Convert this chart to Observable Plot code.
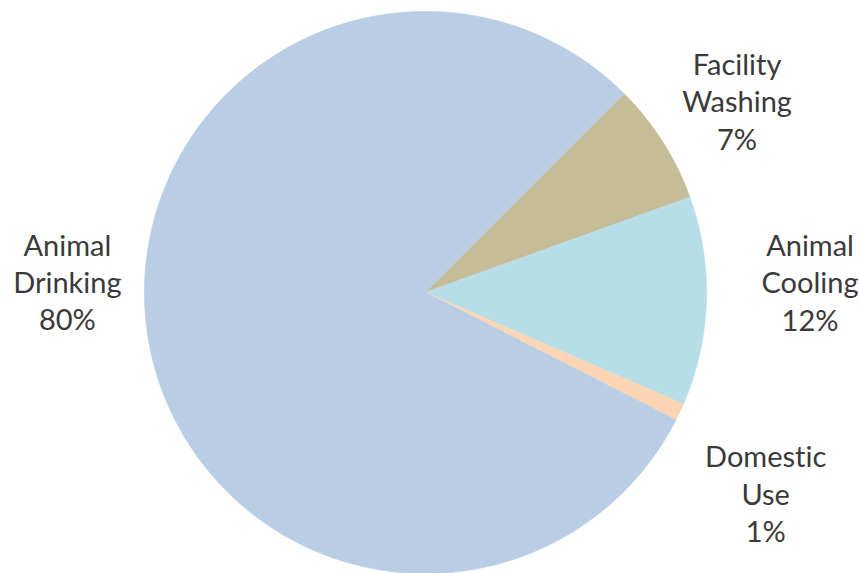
<!DOCTYPE html>
<html><head><meta charset="utf-8">
<script src="https://cdn.jsdelivr.net/npm/d3@7"></script>
<script src="https://cdn.jsdelivr.net/npm/@observablehq/plot@0.6"></script>
<style>html,body{margin:0;padding:0;background:#fff;overflow:hidden} svg text{font-variant-ligatures:none;font-feature-settings:"liga" 0,"clig" 0}</style>
</head><body><div id="chart"></div>
<script>
// ---- data ----
const categories = ["Facility Washing", "Animal Cooling", "Domestic Use", "Animal Drinking"];
const labelLines = [["Facility", "Washing"], ["Animal", "Cooling"], ["Domestic", "Use"], ["Animal", "Drinking"]];
const values = [7, 12, 1, 80];
const colors = ["#C4BD97", "#B7DEE8", "#FCD5B5", "#B9CDE5"];

// ---- layout ----
const W = 860, H = 573;
const cx = 425, cy = 292, R = 281;
const startDeg = 45;          // first slice begins at 45° clockwise from 12 o'clock
const labelRadius = 1.33;     // label centre, in pie radii, along the slice's mid-angle
const labelNudge = [[-4, 8], [11, -23], [2, 41], [11, -70]]; // best-fit shifts (px)

const pie = d3.pie().sort(null).value(d => d)
  .startAngle(startDeg * Math.PI / 180)
  .endAngle(startDeg * Math.PI / 180 + 2 * Math.PI);
const arcs = pie(values);

const pt = (a, r) => [cx + r * Math.sin(a), cy - r * Math.cos(a)];

const wedgePts = [];
arcs.forEach((a, i) => {
  const cat = categories[i];
  wedgePts.push({cat, x: cx, y: cy});
  const n = Math.max(2, Math.ceil((a.endAngle - a.startAngle) / (Math.PI / 720)));
  for (let k = 0; k <= n; k++) {
    const ang = a.startAngle + (a.endAngle - a.startAngle) * k / n;
    const [x, y] = pt(ang, R);
    wedgePts.push({cat, x, y});
  }
});

const labels = arcs.map((a, i) => {
  const mid = (a.startAngle + a.endAngle) / 2;
  const [x, y] = pt(mid, R * labelRadius);
  return {
    x: x + labelNudge[i][0],
    y: y + labelNudge[i][1],
    text: labelLines[i].join("\n") + "\n" + values[i] + "%"
  };
});

const chart = Plot.plot({
  width: W, height: H,
  margin: 0,
  style: {background: "#fff"},
  x: {domain: [0, W], range: [0, W], axis: null},
  y: {domain: [0, H], range: [0, H], axis: null},
  color: {domain: categories, range: colors},
  marks: [
    Plot.line(wedgePts, {x: "x", y: "y", z: "cat", fill: "cat", stroke: "cat", strokeWidth: 0.8, curve: "linear"}),
    Plot.text(labels, {
      x: "x", y: "y", text: "text",
      textAnchor: "middle", lineAnchor: "middle", lineHeight: 1.29,
      fontSize: 29, fontFamily: "Lato", fill: "#3a3a3a"
    })
  ]
});
document.getElementById("chart").appendChild(chart);
</script>
</body></html>
